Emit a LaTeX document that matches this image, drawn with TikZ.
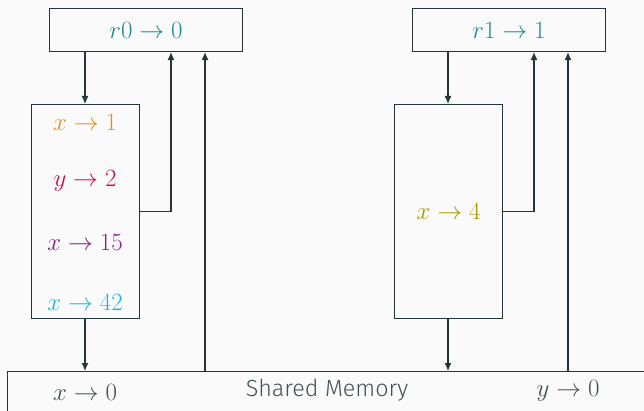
\documentclass[tikz,border=0pt]{standalone}
\usepackage{fontspec}
\newfontfamily\memfont{Fira Sans}[UprightFont={* Light}]
\usetikzlibrary{arrows.meta}
\definecolor{bgpaper}{HTML}{FAFAFA}
\definecolor{ink}{HTML}{23373B}
\definecolor{memtext}{HTML}{3F5357}
\definecolor{regteal}{HTML}{1F8C8C}
\definecolor{valorange}{HTML}{EE8A1E}
\definecolor{valcrimson}{HTML}{C8124F}
\definecolor{valpurple}{HTML}{8C1A8C}
\definecolor{valcyan}{HTML}{1CB4E6}
\definecolor{valolive}{HTML}{A69A05}
\tikzset{
  box/.style={draw=ink, line width=1.1pt, fill=bgpaper, inner sep=0pt, anchor=north west},
  arr/.style={draw=ink, line width=1.1pt, -{Latex[length=8pt,width=7pt]}},
  val/.style={font=\fontsize{23.4}{27}\selectfont, inner sep=0pt},
}
\begin{document}
\begin{tikzpicture}[x=1pt,y=-1pt]
  \fill[bgpaper] (0,0) rectangle (644,411);
  \useasboundingbox (0,0) rectangle (644,411);
  \clip (0,0) rectangle (644,411);

  % register boxes
  \node[box, minimum width=193pt, minimum height=43pt] (r0) at (49,8) {};
  \node[val, text=regteal] at (r0.center) {$r0 \rightarrow 0$};
  \node[box, minimum width=193pt, minimum height=43pt] (r1) at (412,8) {};
  \node[val, text=regteal] at (r1.center) {$r1 \rightarrow 1$};

  % thread store buffers
  \node[box, minimum width=108pt, minimum height=214pt] (t0) at (31,104) {};
  \node[val, text=valorange]  (v1) at (85,122) {$x \rightarrow 1$};
  \node[val, text=valcrimson] (v2) at (85,181) {$y \rightarrow 2$};
  \node[val, text=valpurple]  (v3) at (85,242) {$x \rightarrow 15$};
  \node[val, text=valcyan]    (v4) at (85,302) {$x \rightarrow 42$};

  \node[box, minimum width=108pt, minimum height=214pt] (t1) at (394,104) {};
  \node[val, text=valolive] (v5) at (t1.center) {$x \rightarrow 4$};

  % shared memory
  \node[box, minimum width=680pt, minimum height=80pt] (mem) at (7,371) {};
  \node[val, text=memtext] (m0) at (85,392) {$x \rightarrow 0$};
  \node[text=memtext, inner sep=0pt, font=\memfont\fontsize{23.3}{27}\selectfont] (mt) at (327,390) {Shared Memory};
  \node[val, text=memtext] (m1) at (568,391) {$y \rightarrow 0$};

  % columns of the connectors
  \coordinate (c0a) at (85,0);
  \coordinate (c0b) at (171,0);
  \coordinate (c0c) at (205,0);
  \coordinate (c1a) at (448,0);
  \coordinate (c1b) at (534,0);
  \coordinate (c1c) at (568,0);

  % left thread
  \draw[arr] (r0.south -| c0a) -- (t0.north -| c0a);
  \draw[arr] (t0.east) -| (r0.south -| c0b);
  \draw[arr] (mem.north -| c0c) -- (r0.south -| c0c);
  \draw[arr] (t0.south -| c0a) -- (mem.north -| c0a);

  % right thread
  \draw[arr] (r1.south -| c1a) -- (t1.north -| c1a);
  \draw[arr] (t1.east) -| (r1.south -| c1b);
  \draw[arr] (mem.north -| c1c) -- (r1.south -| c1c);
  \draw[arr] (t1.south -| c1a) -- (mem.north -| c1a);
\end{tikzpicture}
\end{document}
